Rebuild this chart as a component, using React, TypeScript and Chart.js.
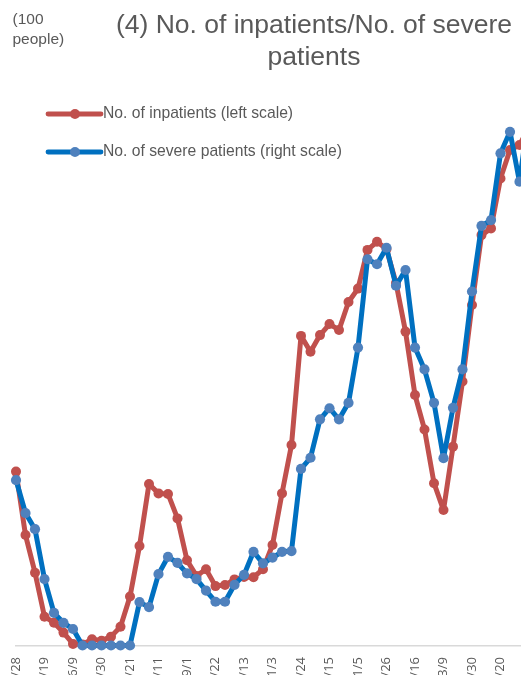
import React, { useEffect, useRef } from "react";
import { Chart, registerables } from "chart.js";

Chart.register(...registerables);

// Weekly dates (2020/4/28 - 2021/5/11)
const dates = [
  "4/28", "5/5", "5/12", "5/19", "5/26", "6/2", "6/9", "6/16", "6/23", "6/30",
  "7/7", "7/14", "7/21", "7/28", "8/4", "8/11", "8/18", "8/25", "9/1", "9/8",
  "9/15", "9/22", "9/29", "10/6", "10/13", "10/20", "10/27", "11/3", "11/10", "11/17",
  "11/24", "12/1", "12/8", "12/15", "12/22", "12/29", "1/5", "1/12", "1/19", "1/26",
  "2/2", "2/9", "2/16", "2/23", "3/2", "3/9", "3/16", "3/23", "3/30", "4/6",
  "4/13", "4/20", "4/27", "5/4", "5/11",
];

// No. of inpatients (left scale, 100 people)
const inpatients = [
  64.7, 41.1, 27.1, 10.7, 8.5, 4.8, 0.6, 0.4, 2.3, 1.8,
  3.3, 7.0, 18.2, 37.0, 60.1, 56.6, 56.4, 47.3, 31.7, 25.9,
  28.4, 22.1, 22.5, 24.6, 25.5, 25.4, 28.4, 37.4, 56.6, 74.6,
  115.2, 109.3, 115.5, 119.6, 117.4, 127.8, 132.8, 147.2, 150.2, 147.5,
  134.9, 116.8, 93.2, 80.4, 60.4, 50.4, 74.0, 98.2, 126.7, 152.7,
  155.2, 173.8, 184.4, 186.2, 193.0,
];

// No. of severe patients (right scale, 100 people)
const severe = [
  4.31, 3.45, 3.03, 1.73, 0.85, 0.59, 0.43, 0, 0, 0,
  0, 0, 0, 1.13, 1.0, 1.86, 2.31, 2.15, 1.88, 1.73,
  1.43, 1.14, 1.14, 1.58, 1.84, 2.44, 2.14, 2.29, 2.44, 2.46,
  4.6, 4.89, 5.89, 6.18, 5.89, 6.32, 7.76, 10.06, 9.93, 10.36,
  9.37, 9.78, 7.76, 7.19, 6.32, 4.88, 6.19, 7.19, 9.22, 10.93,
  11.08, 12.82, 13.38, 12.08, 13.9,
];

const leftMax = 200;
const leftStep = 25;
const rightMax = 14;
const rightStep = 2;

const titleLines = ["(4) No. of inpatients/No. of severe", "patients"];
const unitLines = ["(100", "people)"];
const seriesNames = ["No. of inpatients (left scale)", "No. of severe patients (right scale)"];

const RED = "#C0504D";
const BLUE = "#0070C0";
const BLUE_MARK = "#4F81BD";
const GRAY = "#595959";

const OFFSET_X = 44;

export default function App() {
  const ref = useRef<HTMLCanvasElement | null>(null);

  useEffect(() => {
    if (!ref.current) return;

    const overlay = {
      id: "overlay",
      afterDraw(chart: any) {
        const ctx = chart.ctx;
        ctx.save();
        // unit label
        ctx.fillStyle = GRAY;
        ctx.font = "15.5px 'Liberation Sans', Arial, sans-serif";
        ctx.textAlign = "left";
        ctx.textBaseline = "middle";
        ctx.fillText(unitLines[0], 12.5 + OFFSET_X, 20);
        ctx.fillText(unitLines[1], 12.5 + OFFSET_X, 39.5);

        // legend
        const items = [
          { y: 114, line: RED, mark: RED, text: seriesNames[0] },
          { y: 152, line: BLUE, mark: BLUE_MARK, text: seriesNames[1] },
        ];
        for (const it of items) {
          ctx.strokeStyle = it.line;
          ctx.lineWidth = 4.8;
          ctx.lineCap = "round";
          ctx.beginPath();
          ctx.moveTo(48 + OFFSET_X, it.y);
          ctx.lineTo(101 + OFFSET_X, it.y);
          ctx.stroke();
          ctx.fillStyle = it.mark;
          ctx.beginPath();
          ctx.arc(75 + OFFSET_X, it.y, 5, 0, Math.PI * 2);
          ctx.fill();
          ctx.fillStyle = GRAY;
          ctx.font = "15.7px 'Liberation Sans', Arial, sans-serif";
          ctx.textAlign = "left";
          ctx.textBaseline = "middle";
          ctx.fillText(it.text, 103 + OFFSET_X, it.y);
        }
        ctx.restore();
      },
    };

    const chart = new Chart(ref.current, {
      type: "line",
      data: {
        labels: dates,
        datasets: [
          {
            label: seriesNames[0],
            data: inpatients,
            yAxisID: "y",
            borderColor: RED,
            backgroundColor: RED,
            borderWidth: 5,
            pointRadius: 5,
            pointBorderWidth: 0,
            pointBackgroundColor: RED,
            pointHoverRadius: 5,
            tension: 0,
            borderJoinStyle: "round",
            borderCapStyle: "round",
            clip: false,
            order: 2,
          },
          {
            label: seriesNames[1],
            data: severe,
            yAxisID: "y1",
            borderColor: BLUE,
            backgroundColor: BLUE_MARK,
            borderWidth: 5,
            pointRadius: 5.1,
            pointBorderWidth: 0,
            pointBackgroundColor: BLUE_MARK,
            pointHoverRadius: 5.1,
            tension: 0,
            borderJoinStyle: "round",
            borderCapStyle: "round",
            clip: false,
            order: 1,
          },
        ],
      },
      options: {
        responsive: false,
        animation: false,
        events: [],
        layout: { padding: 0 },
        plugins: {
          legend: { display: false },
          tooltip: { enabled: false },
          title: {
            display: true,
            text: titleLines,
            color: GRAY,
            font: { family: "'Liberation Sans', Arial, sans-serif", size: 26.5, weight: "normal", lineHeight: 1.2 },
            padding: { top: 10, bottom: 34.4 },
          },
        },
        scales: {
          x: {
            type: "category",
            offset: false,
            grid: { display: false, drawTicks: false },
            border: { display: true, color: "#d9d9d9", width: 1.5 },
            ticks: {
              autoSkip: false,
              maxRotation: 90,
              minRotation: 90,
              padding: 11.5,
              color: GRAY,
              font: { family: "'Open Sans', sans-serif", size: 13 },
              callback: (_v: any, i: number) => (i % 3 === 0 ? dates[i] : ""),
            },
            afterFit: (s: any) => {
              s.height = 59.5;
            },
          },
          y: {
            position: "left",
            min: 0,
            max: leftMax,
            grid: { display: false, drawTicks: false },
            border: { display: false },
            ticks: {
              stepSize: leftStep,
              padding: 16.5,
              color: GRAY,
              font: { family: "'Liberation Sans', Arial, sans-serif", size: 13 },
            },
            afterFit: (s: any) => {
              s.width = 60;
            },
          },
          y1: {
            position: "right",
            min: 0,
            max: rightMax,
            grid: { display: false, drawTicks: false },
            border: { display: false },
            ticks: {
              stepSize: rightStep,
              padding: 15,
              color: GRAY,
              font: { family: "'Liberation Sans', Arial, sans-serif", size: 13 },
            },
            afterFit: (s: any) => {
              s.width = 143;
            },
          },
        },
      },
      plugins: [overlay],
    } as any);

    return () => chart.destroy();
  }, []);

  return (
    <div
      style={{
        position: "absolute",
        left: 0,
        top: 0,
        width: 521,
        height: 675,
        overflow: "hidden",
        background: "#fff",
      }}
    >
      <div style={{ position: "absolute", left: -OFFSET_X, top: 0, width: 716, height: 705 }}>
        <canvas ref={ref} width={716} height={705} style={{ width: 716, height: 705, display: "block" }} />
      </div>
    </div>
  );
}
